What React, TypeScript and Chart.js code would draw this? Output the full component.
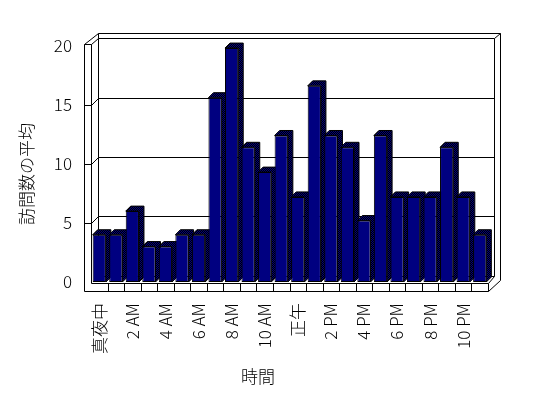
import React, { useEffect, useRef } from 'react';
import { Chart, registerables } from 'chart.js';

Chart.register(...registerables);

// ---- data ----
const hours = [
  '真夜中', '1 AM', '2 AM', '3 AM', '4 AM', '5 AM', '6 AM', '7 AM', '8 AM', '9 AM', '10 AM', '11 AM',
  '正午', '1 PM', '2 PM', '3 PM', '4 PM', '5 PM', '6 PM', '7 PM', '8 PM', '9 PM', '10 PM', '11 PM',
];
const avgVisits = [
  4, 4, 6, 3, 3, 4, 4, 15.6, 19.8, 11.4, 9.3, 12.4,
  7.2, 16.6, 12.4, 11.4, 5.2, 12.4, 7.2, 7.2, 7.2, 11.4, 7.2, 4,
];
const yMin = 0;
const yMax = 20;
const yStep = 5;
const gridValues = [5, 10, 15];
const xTitle = '時間';
const yTitle = '訪問数の平均';

const FONT = "'Noto Sans CJK JP', 'Noto Sans', sans-serif";
const WEIGHT = '300';
const NAVY = '#000080';

function makePattern(ctx: CanvasRenderingContext2D) {
  const pc = document.createElement('canvas');
  pc.width = 2;
  pc.height = 2;
  const g = pc.getContext('2d')!;
  g.fillStyle = '#000000';
  g.fillRect(0, 0, 2, 2);
  g.fillStyle = NAVY;
  g.fillRect(0, 0, 1, 1);
  g.fillRect(1, 1, 1, 1);
  return ctx.createPattern(pc, 'repeat')!;
}

const box3d = {
  id: 'box3d',
  beforeDatasetsDraw(chart: any) {
    const ctx: CanvasRenderingContext2D = chart.ctx;
    const xs = chart.scales.x;
    const ys = chart.scales.y;
    const n = hours.length;
    const slot = xs.getPixelForValue(1) - xs.getPixelForValue(0);
    const L = xs.getPixelForValue(0) - slot / 2;
    const R = xs.getPixelForValue(n - 1) + slot / 2;
    const Y0 = ys.getPixelForValue(yMin);
    const YT = ys.getPixelForValue(yMax) - 1.5;
    const dx = 6.5, dy = -6.5; // wall depth
    const tx = 5.5, ty = -5; // back wall thickness
    const lw = 7.5; // left wall thickness
    const ft = 8; // floor thickness
    const p = (v: number) => Math.round(v) + 0.5;
    const line = (pts: number[][]) => {
      ctx.beginPath();
      pts.forEach(([x, y], i) => (i ? ctx.lineTo(p(x), p(y)) : ctx.moveTo(p(x), p(y))));
      ctx.stroke();
    };
    ctx.save();
    ctx.strokeStyle = '#000';
    ctx.lineWidth = 1;

    const A = [L - lw, YT];
    const B = [L, YT];
    const C = [L + dx, YT + dy];
    const E = [L + dx, YT + dy + ty];
    const F = [R + dx + tx, YT + dy + ty];
    const G = [R + dx, YT + dy];
    const H = [R + dx, Y0 + dy];
    const FR = [R, Y0 + 1];
    const FB = [R, Y0 + 1 + ft];
    const FL = [L - lw, Y0 + 1 + ft];
    const OB = [R + dx + tx, Y0 + 1 + ft + dy + ty];

    // back wall
    line([C, G, H, [L + dx, Y0 + dy], C]);
    // back wall thickness
    line([C, E, F, G]);
    line([F, OB, FB]);
    line([FR, H]);
    // left wall
    line([E, A, B, C]);
    line([B, [L, Y0 + 1]]);
    line([A, FL, FB, FR, [L, Y0 + 1]]);
    // floor dividers
    for (let k = 1; k < n; k++) {
      const x = L + k * slot;
      line([[x, Y0 + 1], [x, Y0 + 1 + ft]]);
    }
    // gridlines
    gridValues.forEach((v) => {
      const yF = ys.getPixelForValue(v);
      line([[L - lw, yF], [L, yF], [L + dx, yF + dy], [R + dx, yF + dy]]);
    });

    // bar top / side faces
    const pat = makePattern(ctx);
    const meta = chart.getDatasetMeta(0);
    const bd = 5;
    meta.data.forEach((el: any) => {
      const { x, y, base, width } = el;
      const l = x - width / 2;
      const r = x + width / 2;
      ctx.beginPath();
      ctx.moveTo(l, y);
      ctx.lineTo(l + bd, y - bd);
      ctx.lineTo(r + bd, y - bd);
      ctx.lineTo(r + bd, base - bd);
      ctx.lineTo(r, base);
      ctx.lineTo(r, y);
      ctx.closePath();
      ctx.fillStyle = pat;
      ctx.fill();
      ctx.stroke();
    });
    ctx.restore();
  },
  afterDraw(chart: any) {
    const ctx: CanvasRenderingContext2D = chart.ctx;
    ctx.save();
    ctx.fillStyle = '#000';
    ctx.font = `${WEIGHT} 17px ${FONT}`;
    ctx.textAlign = 'center';
    ctx.textBaseline = 'middle';
    ctx.fillText(xTitle, 258, 377);
    ctx.translate(27, 174);
    ctx.rotate(-Math.PI / 2);
    ctx.fillText(yTitle, 0, 0);
    ctx.restore();
  },
};

export default function App() {
  const ref = useRef<HTMLCanvasElement>(null);
  useEffect(() => {
    const canvas = ref.current!;
    const chart = new Chart(canvas, {
      type: 'bar',
      data: {
        labels: hours,
        datasets: [
          {
            data: avgVisits,
            backgroundColor: NAVY,
            borderColor: '#000',
            borderWidth: 1,
            borderSkipped: false,
            barPercentage: 0.8,
            categoryPercentage: 1,
          },
        ],
      },
      options: {
        responsive: false,
        animation: false,
        layout: { padding: { left: 0, top: 45.7, right: 60, bottom: 0 } },
        plugins: { legend: { display: false }, tooltip: { enabled: false } },
        scales: {
          x: {
            grid: { display: false, drawTicks: false },
            border: { display: false },
            ticks: {
              autoSkip: false,
              minRotation: 90,
              maxRotation: 90,
              padding: 21,
              color: '#000',
              font: { family: FONT, size: 17, weight: WEIGHT },
              callback: (_v: any, i: number) => (i % 2 === 0 ? hours[i] : ''),
            },
            afterFit: (s: any) => {
              s.height = 398 - 282;
            },
          },
          y: {
            min: yMin,
            max: yMax,
            grid: { display: false, drawTicks: false },
            border: { display: false },
            ticks: {
              stepSize: yStep,
              padding: 19,
              color: '#000',
              font: { family: FONT, size: 17, weight: WEIGHT },
            },
            afterFit: (s: any) => {
              s.width = 91;
            },
          },
        },
      },
      plugins: [box3d],
    });
    return () => chart.destroy();
  }, []);
  return (
    <div style={{ position: 'fixed', left: 0, top: 0, width: 548, height: 398, background: '#fff' }}>
      <canvas ref={ref} width={548} height={398} style={{ display: 'block' }} />
    </div>
  );
}
